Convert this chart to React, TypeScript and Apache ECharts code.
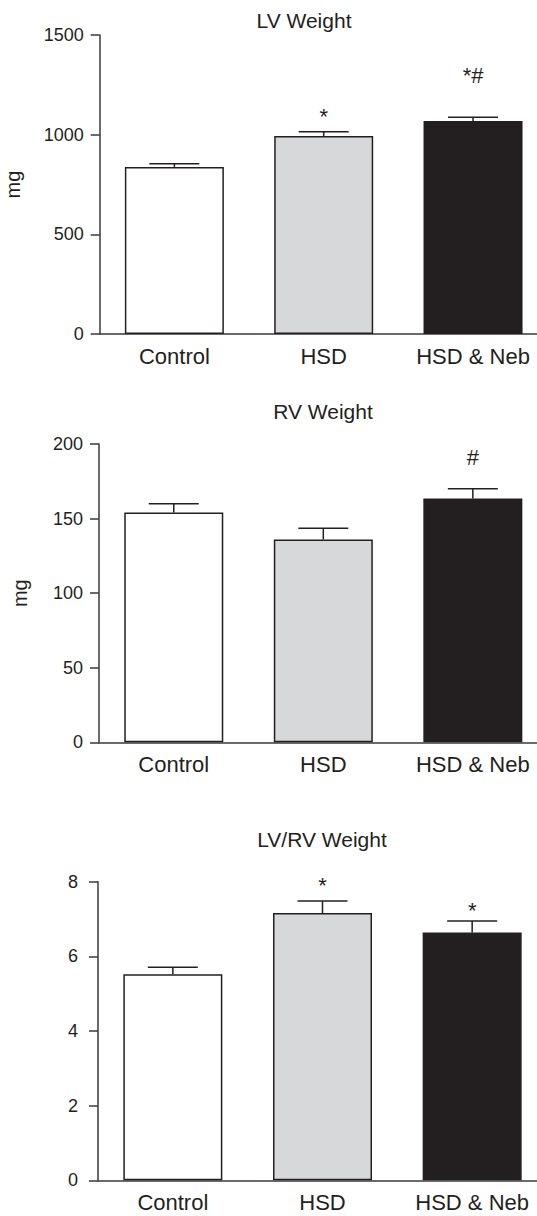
import React, { useEffect, useRef } from "react";
import * as echarts from "echarts";

const categories = ["Control", "HSD", "HSD & Neb"];

const lvMeans = [838, 993, 1068];
const lvErrors = [16, 22, 19];
const lvMarks = ["", "*", "*#"];

const rvMeans = [154, 136, 163.5];
const rvErrors = [6, 7.5, 6.5];
const rvMarks = ["", "", "#"];

const ratioMeans = [5.52, 7.16, 6.64];
const ratioErrors = [0.19, 0.32, 0.31];
const ratioMarks = ["", "*", "*"];

const titles = ["LV Weight", "RV Weight", "LV/RV Weight"];

const FONT = "'Liberation Sans', Arial, Helvetica, sans-serif";
const INK = "#231f20";
const AXIS = "#3a3a3a";
const fills = ["#ffffff", "#d7d8da", "#231f20"];

type Panel = {
  means: number[];
  errors: number[];
  marks: string[];
  markGap: number[];
  max: number;
  interval: number;
  grid: { left: number; top: number; width: number; height: number };
  yName: string;
  nameGap: number;
  labelMargin: number;
};

const panels: Panel[] = [
  {
    means: lvMeans, errors: lvErrors, marks: lvMarks, markGap: [0, 15, 42],
    max: 1500, interval: 500,
    grid: { left: 99.7, top: 35, width: 448, height: 299 },
    yName: "mg", nameGap: 77, labelMargin: 16,
  },
  {
    means: rvMeans, errors: rvErrors, marks: rvMarks, markGap: [0, 0, 31],
    max: 200, interval: 50,
    grid: { left: 99, top: 444, width: 448.6, height: 298.3 },
    yName: "mg", nameGap: 69, labelMargin: 16,
  },
  {
    means: ratioMeans, errors: ratioErrors, marks: ratioMarks, markGap: [0, 16, 10],
    max: 8, interval: 2,
    grid: { left: 98, top: 881.7, width: 449, height: 298.6 },
    yName: "", nameGap: 60, labelMargin: 20,
  },
];

const titlePos = [
  { x: 304, y: 20 },
  { x: 323, y: 411 },
  { x: 322, y: 839 },
];

export default function App() {
  const ref = useRef<HTMLDivElement>(null);
  useEffect(() => {
    if (!ref.current) return;
    const chart = echarts.init(ref.current, undefined, { renderer: "svg" });

    const grids: any[] = [];
    const xAxes: any[] = [];
    const yAxes: any[] = [];
    const series: any[] = [];

    panels.forEach((p, k) => {
      grids.push({ ...p.grid, containLabel: false, outerBoundsMode: "none" });
      xAxes.push({
        type: "category",
        gridIndex: k,
        data: categories,
        axisLine: { show: true, lineStyle: { color: AXIS, width: 1.5 } },
        axisTick: { show: false },
        axisLabel: { color: INK, fontSize: 22, fontFamily: FONT, margin: 11, interval: 0 },
        splitLine: { show: false },
      });
      yAxes.push({
        type: "value",
        gridIndex: k,
        min: 0,
        max: p.max,
        interval: p.interval,
        name: p.yName,
        nameLocation: "middle",
        nameRotate: 90,
        nameGap: p.nameGap,
        nameTextStyle: { color: INK, fontSize: 20, fontFamily: FONT },
        axisLine: { show: true, lineStyle: { color: AXIS, width: 1.5 } },
        axisTick: { show: true, length: 9, lineStyle: { color: AXIS, width: 1.5 } },
        axisLabel: {
          color: INK,
          fontSize: 18,
          fontFamily: FONT,
          margin: p.labelMargin,
          formatter: (v: number) => String(v),
        },
        splitLine: { show: false },
      });
      series.push({
        type: "bar",
        xAxisIndex: k,
        yAxisIndex: k,
        barWidth: 99,
        data: p.means.map((v, i) => ({
          value: v,
          itemStyle: { color: fills[i], borderColor: INK, borderWidth: 1.5 },
        })),
      });
      series.push({
        type: "custom",
        xAxisIndex: k,
        yAxisIndex: k,
        z: 5,
        data: p.means.map((v, i) => [i, v, p.errors[i]]),
        renderItem: (params: any, api: any) => {
          const idx = params.dataIndex;
          const i = api.value(0);
          const m = api.value(1);
          const e = api.value(2);
          const base = api.coord([i, m]);
          const top = api.coord([i, m + e]);
          const half = 25;
          const children: any[] = [
            {
              type: "line",
              shape: { x1: base[0], y1: base[1], x2: top[0], y2: top[1] },
              style: { stroke: INK, lineWidth: 1.5 },
            },
            {
              type: "line",
              shape: { x1: top[0] - half, y1: top[1], x2: top[0] + half, y2: top[1] },
              style: { stroke: INK, lineWidth: 1.5 },
            },
          ];
          const mark = p.marks[idx];
          if (mark) {
            children.push({
              type: "text",
              x: top[0],
              y: top[1] - p.markGap[idx],
              style: {
                text: mark,
                fill: INK,
                fontSize: 22,
                fontFamily: FONT,
                textAlign: "center",
                textVerticalAlign: "middle",
              },
            });
          }
          return { type: "group", children };
        },
      });
    });

    chart.setOption({
      animation: false,
      backgroundColor: "#ffffff",
      textStyle: { fontFamily: FONT },
      grid: grids,
      xAxis: xAxes,
      yAxis: yAxes,
      series,
      graphic: titles.map((t, k) => ({
        type: "text",
        x: titlePos[k].x,
        y: titlePos[k].y,
        style: {
          text: t,
          fill: INK,
          fontSize: 21,
          fontFamily: FONT,
          textAlign: "center",
          textVerticalAlign: "middle",
        },
      })),
    });

    return () => chart.dispose();
  }, []);

  return (
    <div
      ref={ref}
      style={{ position: "absolute", left: 0, top: 0, width: 537, height: 1216 }}
    />
  );
}
